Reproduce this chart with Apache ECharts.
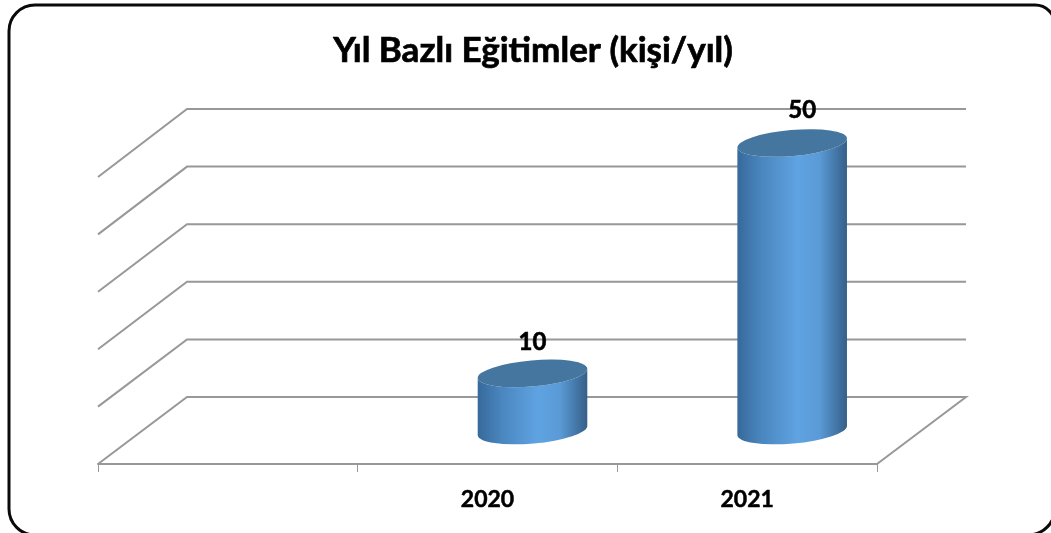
<!DOCTYPE html>
<html>
<head>
<meta charset="utf-8">
<script src="https://cdn.jsdelivr.net/npm/echarts@6/dist/echarts.min.js"></script>
<style>
  html, body { margin: 0; padding: 0; background: #fff; }
  #chart { width: 1051px; height: 533px; }
</style>
</head>
<body>
<div id="chart"></div>
<script>
const titleText = 'Yıl Bazlı Eğitimler (kişi/yıl)';
const categories = ['', '2020', '2021'];
const values = [null, 10, 50];
const gridLevels = [0, 10, 20, 30, 40, 50];

// fake 3d: offset from the front plane to the back wall, in px
const depthX = 89;
const depthY = -67;
const radiusX = 55;
const radiusY = 13;
const tilt = -5;
const gridColor = '#989898';

const myChart = echarts.init(document.getElementById('chart'), null, { renderer: 'canvas' });

const renderGridLine = (params, api) => {
  const front = api.coord([0, api.value(0)]);
  const x0 = params.coordSys.x;
  const x1 = x0 + params.coordSys.width;
  const y = front[1];
  const points = [
    [x0, y + api.value(0) * 0.02],
    [x0 + depthX, y + depthY],
    [x1 + depthX, y + depthY],
  ];
  if (api.value(0) === 0) {
    points.push([x1, y]);
  }
  return {
    type: 'polyline',
    silent: true,
    shape: { points },
    style: { fill: null, stroke: gridColor, lineWidth: 2 },
  };
};

const renderCylinder = (params, api) => {
  const base = api.coord([api.value(0), 0]);
  const top = api.coord([api.value(0), api.value(1)]);
  const cx = base[0] + depthX / 2 + 0.5;
  const by = base[1] + depthY / 2;
  const ty = top[1] + depthY / 2 + 0.5;
  const rad = (tilt * Math.PI) / 180;
  const dx = radiusX * Math.cos(rad);
  const dy = radiusX * Math.sin(rad);
  const arc = `A${radiusX} ${radiusY} ${tilt}`;
  const body =
    `M${cx - dx} ${ty - dy} L${cx - dx} ${by - dy} ` +
    `${arc} 0 0 ${cx + dx} ${by + dy} L${cx + dx} ${ty + dy} ` +
    `${arc} 0 1 ${cx - dx} ${ty - dy} Z`;
  const cap =
    `M${cx - dx} ${ty - dy} ${arc} 1 1 ${cx + dx} ${ty + dy} ` +
    `${arc} 1 1 ${cx - dx} ${ty - dy} Z`;
  const isTall = api.value(1) > 10;
  return {
    type: 'group',
    children: [
      {
        type: 'path',
        shape: { pathData: body },
        style: {
          fill: new echarts.graphic.LinearGradient(0, 0, 1, 0, [
            { offset: 0, color: '#37699a' },
            { offset: 0.22, color: '#4a86bf' },
            { offset: 0.55, color: '#5fa3e2' },
            { offset: 0.75, color: '#5a9ad6' },
            { offset: 1, color: '#355f88' },
          ]),
        },
      },
      {
        type: 'path',
        shape: { pathData: cap },
        style: { fill: '#44769f' },
      },
      {
        type: 'text',
        x: cx + (isTall ? 10 : 0),
        y: ty - (isTall ? 32.5 : 31),
        style: {
          text: String(api.value(1)),
          font: 'bold 24px Lato',
          fill: '#000',
          stroke: '#000',
          lineWidth: 0.6,
          align: 'center',
          verticalAlign: 'middle',
        },
      },
    ],
  };
};

myChart.setOption({
  animation: false,
  backgroundColor: '#fff',
  title: {
    text: titleText,
    left: 528,
    top: 28,
    textAlign: 'center',
    textStyle: {
      fontFamily: 'Lato',
      fontWeight: 'bold',
      fontSize: 35,
      color: '#000',
      textBorderColor: '#000',
      textBorderWidth: 0.7,
    },
  },
  graphic: [
    {
      type: 'rect',
      silent: true,
      z: -1,
      shape: { x: 9, y: 5, width: 1046, height: 530, r: [26, 20, 27, 26] },
      style: { fill: null, stroke: '#0a0a0a', lineWidth: 3 },
    },
  ],
  grid: { left: 98, right: 174, top: 176, bottom: 69 },
  xAxis: {
    type: 'category',
    data: categories,
    boundaryGap: true,
    axisLine: { lineStyle: { color: gridColor, width: 2 } },
    axisTick: { show: true, alignWithLabel: false, length: 8, lineStyle: { color: gridColor, width: 1 } },
    axisLabel: {
      color: '#000',
      fontFamily: 'Lato',
      fontWeight: 'bold',
      fontSize: 23,
      margin: 24,
      interval: 0,
      textBorderColor: '#000',
      textBorderWidth: 0.5,
    },
  },
  yAxis: {
    type: 'value',
    min: 0,
    max: 50,
    interval: 10,
    axisLine: { show: false },
    axisTick: { show: false },
    axisLabel: { show: false },
    splitLine: { show: false },
  },
  series: [
    {
      type: 'custom',
      coordinateSystem: 'cartesian2d',
      clip: false,
      z: 1,
      silent: true,
      encode: { x: 1, y: 0 },
      data: gridLevels.map(level => [level, 0]),
      renderItem: renderGridLine,
    },
    {
      type: 'custom',
      coordinateSystem: 'cartesian2d',
      clip: false,
      z: 2,
      silent: true,
      encode: { x: 0, y: 1 },
      data: categories.map((c, i) => [i, values[i]]).filter(d => d[1] !== null),
      renderItem: renderCylinder,
    },
  ],
});
</script>
</body>
</html>
